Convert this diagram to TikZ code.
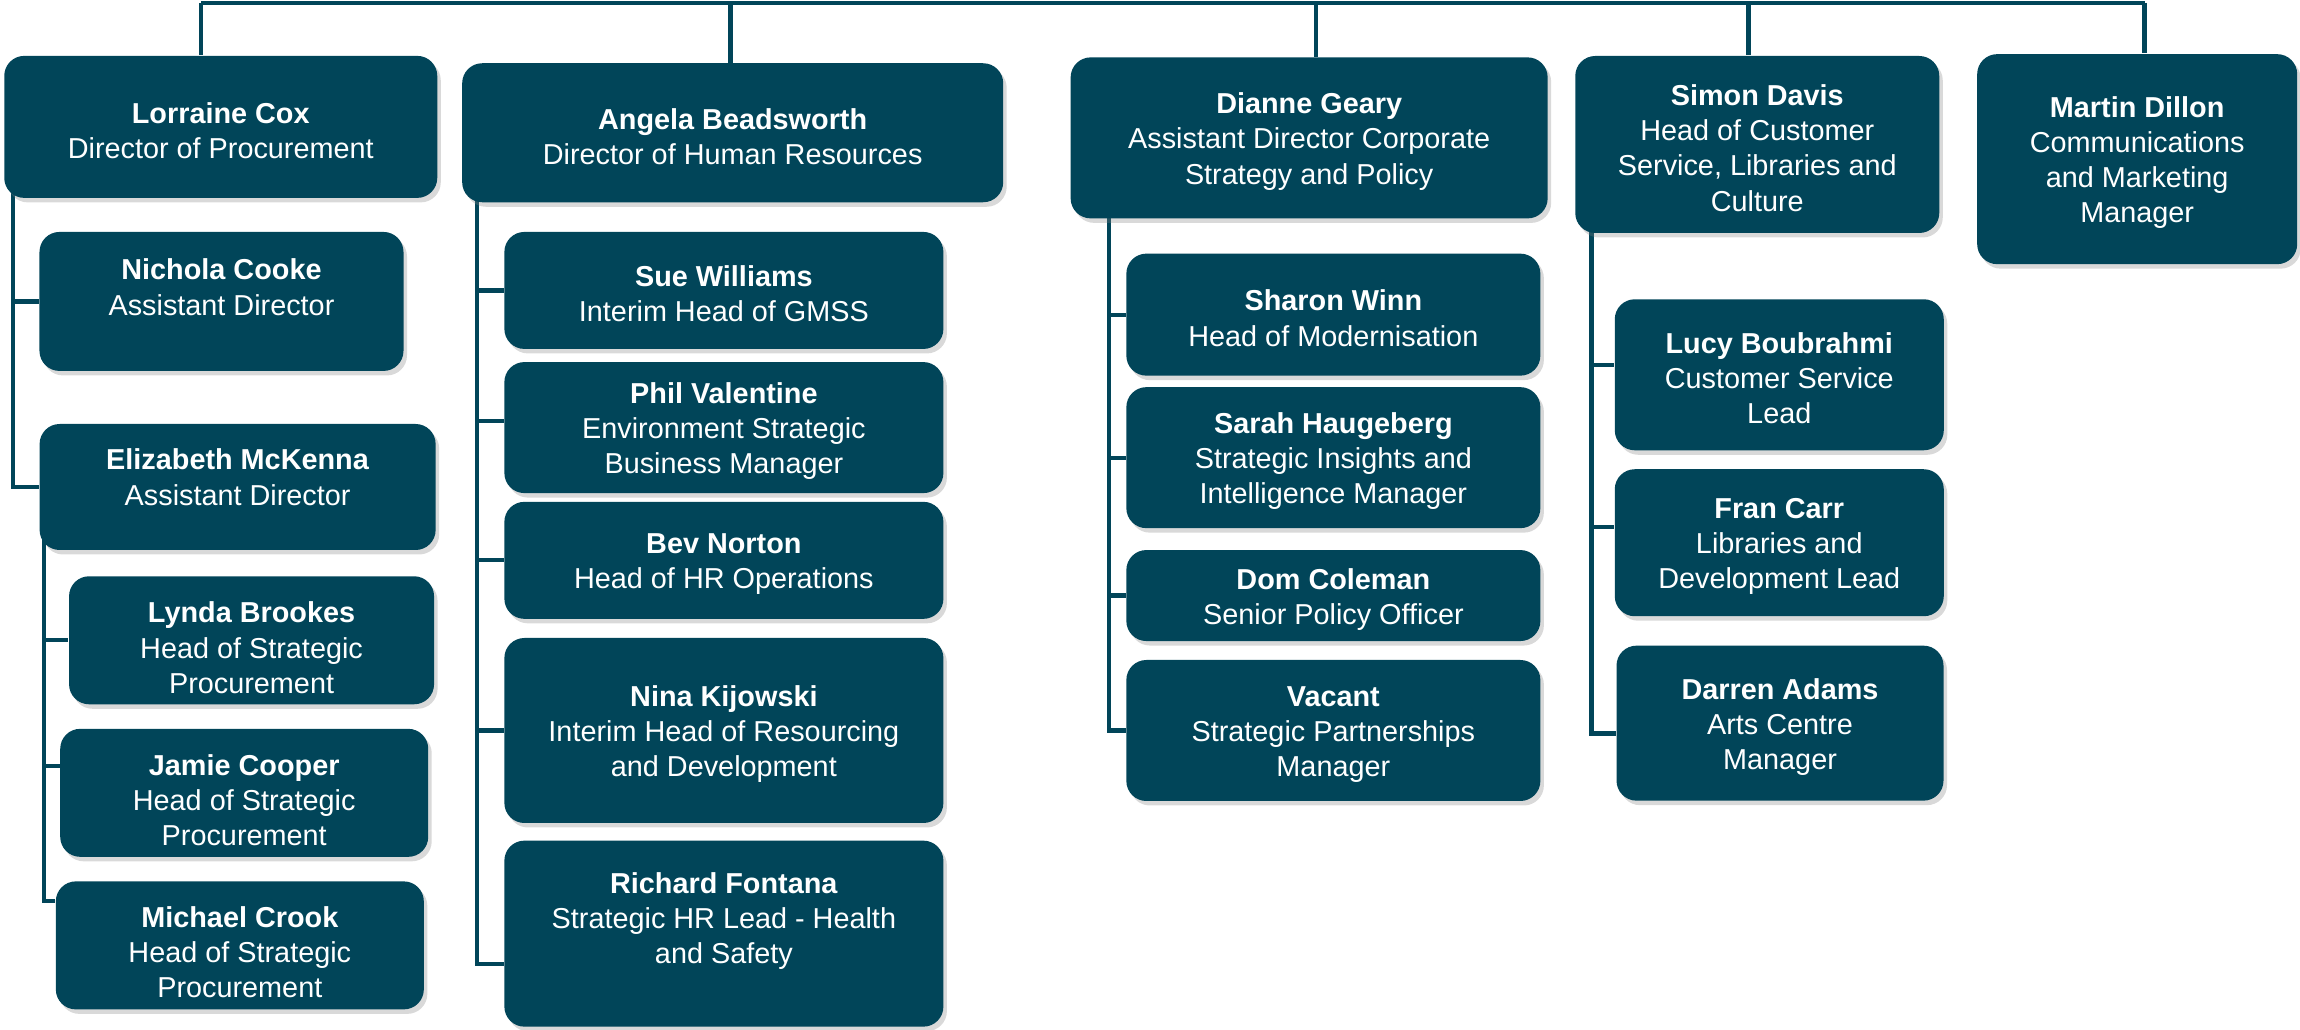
\documentclass[tikz,border=0pt]{standalone}
\usepackage{fontspec}
\setmainfont{Liberation Sans}
\usetikzlibrary{shadows,backgrounds}
\definecolor{teal}{RGB}{1,69,89}
% name line of a box, with a strut setting the room above it
\newcommand{\who}[2][8pt]{\rule{0pt}{#1}\textbf{#2}}
% extra room below the last line
\newcommand{\gap}[1]{\rule[-#1]{0pt}{#1}}
\begin{document}
\begin{tikzpicture}[x=0.14668mm,y=-0.14668mm,
  person/.style={rectangle, rounded corners=2mm, fill=teal, draw=none, text=white,
    align=center, inner sep=0pt, font=\fontsize{8.2}{10}\selectfont,
    drop shadow={shadow xshift=0.35mm, shadow yshift=-0.45mm, opacity=0.3}},
  link/.style={draw=teal, line width=0.42mm}]
\useasboundingbox (0,0) rectangle (1568,702);
% procurement
\node [person, minimum width=43.3mm, minimum height=14.2mm] (lorraine) at (150.5,86.5) {\who{Lorraine Cox}\\Director of Procurement};
\node [person, minimum width=36.4mm, minimum height=13.9mm] (nichola) at (151,205.5) {\who{Nichola Cooke}\\Assistant Director\gap{3.6mm}};
\node [person, minimum width=39.6mm, minimum height=12.6mm] (elizabeth) at (162,332) {\who{Elizabeth McKenna}\\Assistant Director\gap{2.7mm}};
\node [person, minimum width=36.5mm, minimum height=12.8mm] (lynda) at (171.5,436.5) {\who[10.2pt]{Lynda Brookes}\\Head of Strategic\\Procurement};
\node [person, minimum width=36.8mm, minimum height=12.8mm] (jamie) at (166.5,540.5) {\who[10.2pt]{Jamie Cooper}\\Head of Strategic\\Procurement};
\node [person, minimum width=36.8mm, minimum height=12.8mm] (michael) at (163.5,644.5) {\who[10pt]{Michael Crook}\\Head of Strategic\\Procurement};
% human resources
\node [person, minimum width=54.1mm, minimum height=13.9mm] (angela) at (499.5,90.5) {\who{Angela Beadsworth}\\Director of Human Resources};
\node [person, minimum width=43.9mm, minimum height=11.7mm] (sue) at (493.5,198) {\who{Sue Williams}\\Interim Head of GMSS};
\node [person, minimum width=43.9mm, minimum height=13.1mm] (phil) at (493.5,291.5) {\who{Phil Valentine}\\Environment Strategic\\Business Manager};
\node [person, minimum width=43.9mm, minimum height=11.7mm] (bev) at (493.5,382) {\who{Bev Norton}\\Head of HR Operations};
\node [person, minimum width=43.9mm, minimum height=18.5mm] (nina) at (493.5,498) {\who{Nina Kijowski}\\Interim Head of Resourcing\\and Development};
\node [person, minimum width=43.9mm, minimum height=18.6mm] (richard) at (493.5,636.5) {\who{Richard Fontana}\\Strategic HR Lead - Health\\and Safety\gap{3.8mm}};
% corporate strategy
\node [person, minimum width=47.7mm, minimum height=16.1mm] (dianne) at (892.5,94) {\who{Dianne Geary}\\Assistant Director Corporate\\Strategy and Policy};
\node [person, minimum width=41.4mm, minimum height=12.2mm] (sharon) at (909,214.5) {\who{Sharon Winn}\\Head of Modernisation};
\node [person, minimum width=41.4mm, minimum height=14.1mm] (sarah) at (909,312) {\who{Sarah Haugeberg}\\Strategic Insights and\\Intelligence Manager};
\node [person, minimum width=41.4mm, minimum height=9.1mm] (dom) at (909,406) {\who{Dom Coleman}\\Senior Policy Officer};
\node [person, minimum width=41.4mm, minimum height=14.1mm] (vacant) at (909,498) {\who{Vacant}\\Strategic Partnerships\\Manager};
% customer service
\node [person, minimum width=36.4mm, minimum height=17.7mm] (simon) at (1198,98.5) {\who{Simon Davis}\\Head of Customer\\Service, Libraries and\\Culture};
\node [person, minimum width=32.9mm, minimum height=15.1mm] (lucy) at (1213,255.5) {\who{Lucy Boubrahmi}\\Customer Service\\Lead};
\node [person, minimum width=32.9mm, minimum height=14.7mm] (fran) at (1213,370) {\who{Fran Carr}\\Libraries and\\Development Lead};
\node [person, minimum width=32.7mm, minimum height=15.5mm] (darren) at (1213.5,493) {\who{Darren Adams}\\Arts Centre\\Manager};
% communications
\node [person, minimum width=32mm, minimum height=21mm] (martin) at (1457,108.5) {\who{Martin Dillon}\\Communications\\and Marketing\\Manager};
% connectors
\coordinate (dlorraine) at (137,2);
\coordinate (dangela) at (498,2);
\coordinate (ddianne) at (897,2);
\coordinate (dsimon) at (1192,2);
\coordinate (dmartin) at (1462,2);
\coordinate (slorraine) at (9,86.5);
\coordinate (selizabeth) at (30,332);
\coordinate (sangela) at (325,90.5);
\coordinate (sdianne) at (756,94);
\coordinate (ssimon) at (1085,98.5);
\begin{scope}[on background layer]
\draw [link] (dlorraine) -- (dmartin);
\draw [link] (dlorraine) -- (dlorraine |- lorraine.north);
\draw [link] (dangela) -- (dangela |- angela.north);
\draw [link] (ddianne) -- (ddianne |- dianne.north);
\draw [link] (dsimon) -- (dsimon |- simon.north);
\draw [link] (dmartin) -- (dmartin |- martin.north);
\draw [link] (slorraine) |- (nichola.west);
\draw [link] (slorraine) |- (elizabeth.west);
\draw [link] (selizabeth) |- (lynda.west);
\draw [link] (selizabeth) |- (jamie.west |- 0,522);
\draw [link] (selizabeth) |- (michael.west |- 0,614);
\draw [link] (sangela) |- (sue.west);
\draw [link] (sangela) |- (phil.west |- 0,287);
\draw [link] (sangela) |- (bev.west);
\draw [link] (sangela) |- (nina.west);
\draw [link] (sangela) |- (richard.west |- 0,657);
\draw [link] (sdianne) |- (sharon.west);
\draw [link] (sdianne) |- (sarah.west);
\draw [link] (sdianne) |- (dom.west);
\draw [link] (sdianne) |- (vacant.west);
\draw [link] (ssimon) |- (lucy.west |- 0,249);
\draw [link] (ssimon) |- (fran.west |- 0,359);
\draw [link] (ssimon) |- (darren.west |- 0,500);
\end{scope}
\end{tikzpicture}
\end{document}
